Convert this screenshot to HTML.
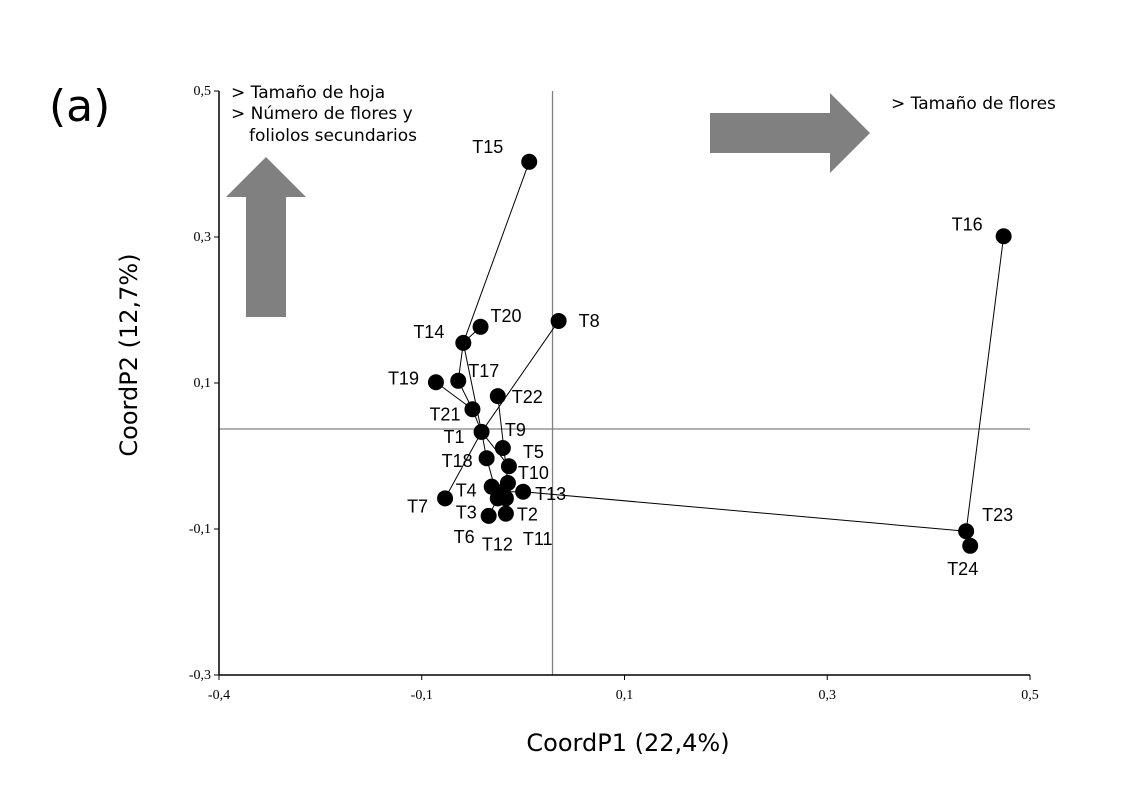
<!DOCTYPE html>
<html><head><meta charset="utf-8"><style>
html,body{margin:0;padding:0;background:#fff;}
svg{display:block;}
.tick{font-family:"Liberation Serif",serif;font-size:14px;fill:#000;}
.lab{font-family:"Liberation Sans",sans-serif;font-size:18px;fill:#000;}
.ann{font-family:"DejaVu Sans",sans-serif;font-size:17px;fill:#000;}
</style></head><body>
<svg id="chart" width="1142" height="811" viewBox="0 0 1142 811">
<text x="49" y="121" font-family="DejaVu Sans,sans-serif" font-size="44">(a)</text>
<polygon points="246,317 286,317 286,197 306,197 266,157 226,197 246,197" fill="#808080"/>
<polygon points="710,113 830,113 830,93 870,133 830,173 830,153 710,153" fill="#808080"/>
<text class="ann" x="231" y="98">&gt; Tamaño de hoja</text>
<text class="ann" x="231" y="119">&gt; Número de flores y</text>
<text class="ann" x="249" y="141">foliolos secundarios</text>
<text class="ann" x="891" y="109">&gt; Tamaño de flores</text>
<text x="628" y="751" text-anchor="middle" font-family="DejaVu Sans,sans-serif" font-size="24">CoordP1 (22,4%)</text>
<text transform="translate(137,355) rotate(-90)" text-anchor="middle" font-family="DejaVu Sans,sans-serif" font-size="24">CoordP2 (12,7%)</text>
<g id="plot"></g>
</svg>
<script>
const names=["T1","T2","T3","T4","T5","T6","T7","T8","T9","T10","T11","T12","T13","T14","T15","T16","T17","T18","T19","T20","T21","T22","T23","T24"];
const xVals=[-0.041,-0.017,-0.025,-0.031,-0.014,-0.034,-0.077,0.035,-0.020,-0.015,-0.020,-0.017,0.000,-0.059,0.006,0.474,-0.064,-0.036,-0.086,-0.042,-0.050,-0.025,0.437,0.441];
const yVals=[0.033,-0.058,-0.058,-0.042,-0.014,-0.082,-0.058,0.185,0.011,-0.037,-0.049,-0.079,-0.049,0.155,0.403,0.301,0.103,-0.003,0.101,0.177,0.064,0.082,-0.103,-0.123];
const labelDx=[-38,11,-42,-36,14,-35,-38,20,2,10,20,-24,12,-50,-57,-52,10,-45,-48,10,-43,14,16,-23];
const labelDy=[11,22,20,10,-8,27,14,6,-12,-4,53,37,8,-5,-9,-6,-4,9,2,-5,11,7,-10,29];
const edges=[["T15","T14"],["T14","T20"],["T14","T17"],["T14","T1"],["T19","T21"],["T17","T21"],["T21","T1"],["T8","T1"],["T1","T7"],["T22","T10"],["T1","T18"],["T1","T5"],["T18","T3"],["T5","T11"],["T4","T11"],["T2","T11"],["T11","T13"],["T6","T3"],["T12","T2"],["T13","T23"],["T23","T16"],["T23","T24"]];
const xTickVals=[-0.3,-0.1,0.1,0.3,0.5];
const xTickText=["-0,4","-0,1","0,1","0,3","0,5"];
const yTickVals=[-0.3,-0.1,0.1,0.3,0.5];
const yTickText=["-0,3","-0,1","0,1","0,3","0,5"];
const refX=0.029, refY=0.037;

const X0=219,X1=1030,Y0=675,Y1=91;
const xMin=-0.3,xMax=0.5,yMin=-0.3,yMax=0.5;
const sx=v=>X0+(v-xMin)/(xMax-xMin)*(X1-X0);
const sy=v=>Y0-(v-yMin)/(yMax-yMin)*(Y0-Y1);
const NS="http://www.w3.org/2000/svg";
const g=document.getElementById('plot');
function mk(t,a){const e=document.createElementNS(NS,t);for(const k in a)e.setAttribute(k,a[k]);g.appendChild(e);return e;}
let e;
e=mk('line',{x1:sx(refX),y1:Y1,x2:sx(refX),y2:Y0,stroke:'#808080','stroke-width':1.3});


e=mk('line',{x1:X0,y1:sy(refY),x2:X1,y2:sy(refY),stroke:'#808080','stroke-width':1.3});


e=mk('line',{x1:X0,y1:Y1,x2:X0,y2:Y0,stroke:'#000','stroke-width':1.5});


e=mk('line',{x1:X0,y1:Y0,x2:X1,y2:Y0,stroke:'#000','stroke-width':1.5});


yTickVals.forEach((v,i)=>{
 const t=mk('line',{x1:X0-5,y1:sy(v),x2:X0,y2:sy(v),stroke:'#000'});
 
 
 const l=mk('text',{x:X0-8,y:sy(v)+4,'text-anchor':'end',class:'tick'});l.textContent=yTickText[i];
 
 
});
xTickVals.forEach((v,i)=>{
 const t=mk('line',{x1:sx(v),y1:Y0,x2:sx(v),y2:Y0+5,stroke:'#000'});
 
 
 const l=mk('text',{x:sx(v),y:Y0+24,'text-anchor':'middle',class:'tick'});l.textContent=xTickText[i];
 
 
});
edges.forEach(([a,b])=>{
 const i=names.indexOf(a),j=names.indexOf(b);
 const l=mk('line',{x1:sx(xVals[i]),y1:sy(yVals[i]),x2:sx(xVals[j]),y2:sy(yVals[j]),stroke:'#000','stroke-width':1});
 
 
});
names.forEach((n,i)=>{
 const c=mk('circle',{cx:sx(xVals[i]),cy:sy(yVals[i]),r:8,fill:'#000'});
 
 
 const t=mk('text',{x:sx(xVals[i])+labelDx[i],y:sy(yVals[i])+labelDy[i],class:'lab'});t.textContent=n;
 
 
});
</script>
</body></html>
